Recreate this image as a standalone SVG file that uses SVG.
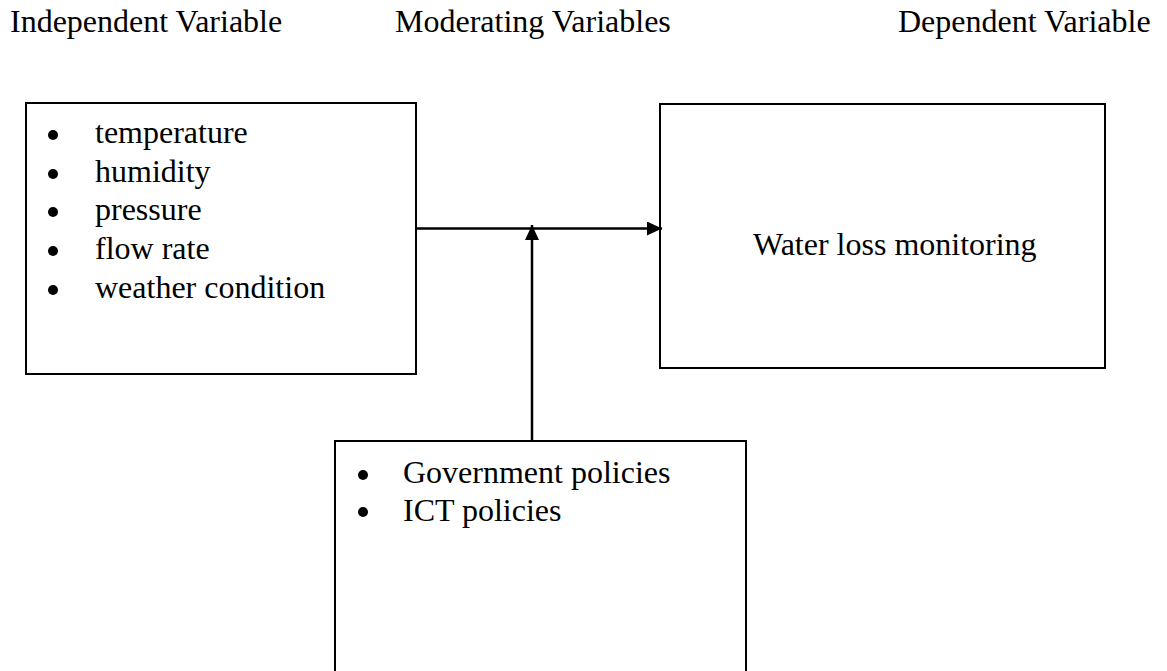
<svg xmlns="http://www.w3.org/2000/svg" width="1167" height="671" viewBox="0 0 1167 671">
  <style>
    .txt { font-family: "Liberation Serif", "Times New Roman", serif; font-size: 32px; fill: #000; }
    .box { fill: #fff; stroke: #000; stroke-width: 2; }
    .link { stroke: #000; stroke-width: 2.5; fill: none; }
    .dot { fill: #000; }
  </style>
  <defs>
    <marker id="head" viewBox="0 0 15 14" refX="15" refY="7" markerUnits="userSpaceOnUse" markerWidth="15" markerHeight="14" orient="auto">
      <path d="M0,0 L15,7 L0,14 Z" fill="#000"/>
    </marker>
  </defs>
  <rect width="1167" height="671" fill="#fff"/>

  <!-- column headings -->
  <g id="headings">
    <text class="txt" x="10" y="32">Independent Variable</text>
    <text class="txt" x="395" y="32">Moderating Variables</text>
    <text class="txt" x="898" y="32">Dependent Variable</text>
  </g>

  <!-- independent variables -->
  <g id="independent">
    <rect class="box" x="26" y="103" width="390" height="271"/>
    <circle class="dot" cx="53" cy="135" r="5"/>
    <circle class="dot" cx="53" cy="174" r="5"/>
    <circle class="dot" cx="53" cy="212" r="5"/>
    <circle class="dot" cx="53" cy="251" r="5"/>
    <circle class="dot" cx="53" cy="290" r="5"/>
    <text class="txt" x="95" y="143">temperature</text>
    <text class="txt" x="95" y="182">humidity</text>
    <text class="txt" x="95" y="220">pressure</text>
    <text class="txt" x="95" y="259">flow rate</text>
    <text class="txt" x="95" y="298">weather condition</text>
  </g>

  <!-- dependent variable -->
  <g id="dependent">
    <rect class="box" x="660" y="104" width="445" height="264"/>
    <text class="txt" x="753" y="255">Water loss monitoring</text>
  </g>

  <!-- moderating variables -->
  <g id="moderating">
    <rect class="box" x="335" y="441" width="411" height="270"/>
    <circle class="dot" cx="363" cy="475" r="5"/>
    <circle class="dot" cx="363" cy="512" r="5"/>
    <text class="txt" x="403" y="483">Government policies</text>
    <text class="txt" x="403" y="521">ICT policies</text>
  </g>

  <!-- connectors -->
  <g id="connectors">
    <line class="link" x1="416" y1="228.5" x2="662" y2="228.5" marker-end="url(#head)"/>
    <line class="link" x1="532" y1="441" x2="532" y2="225" marker-end="url(#head)"/>
  </g>
</svg>
